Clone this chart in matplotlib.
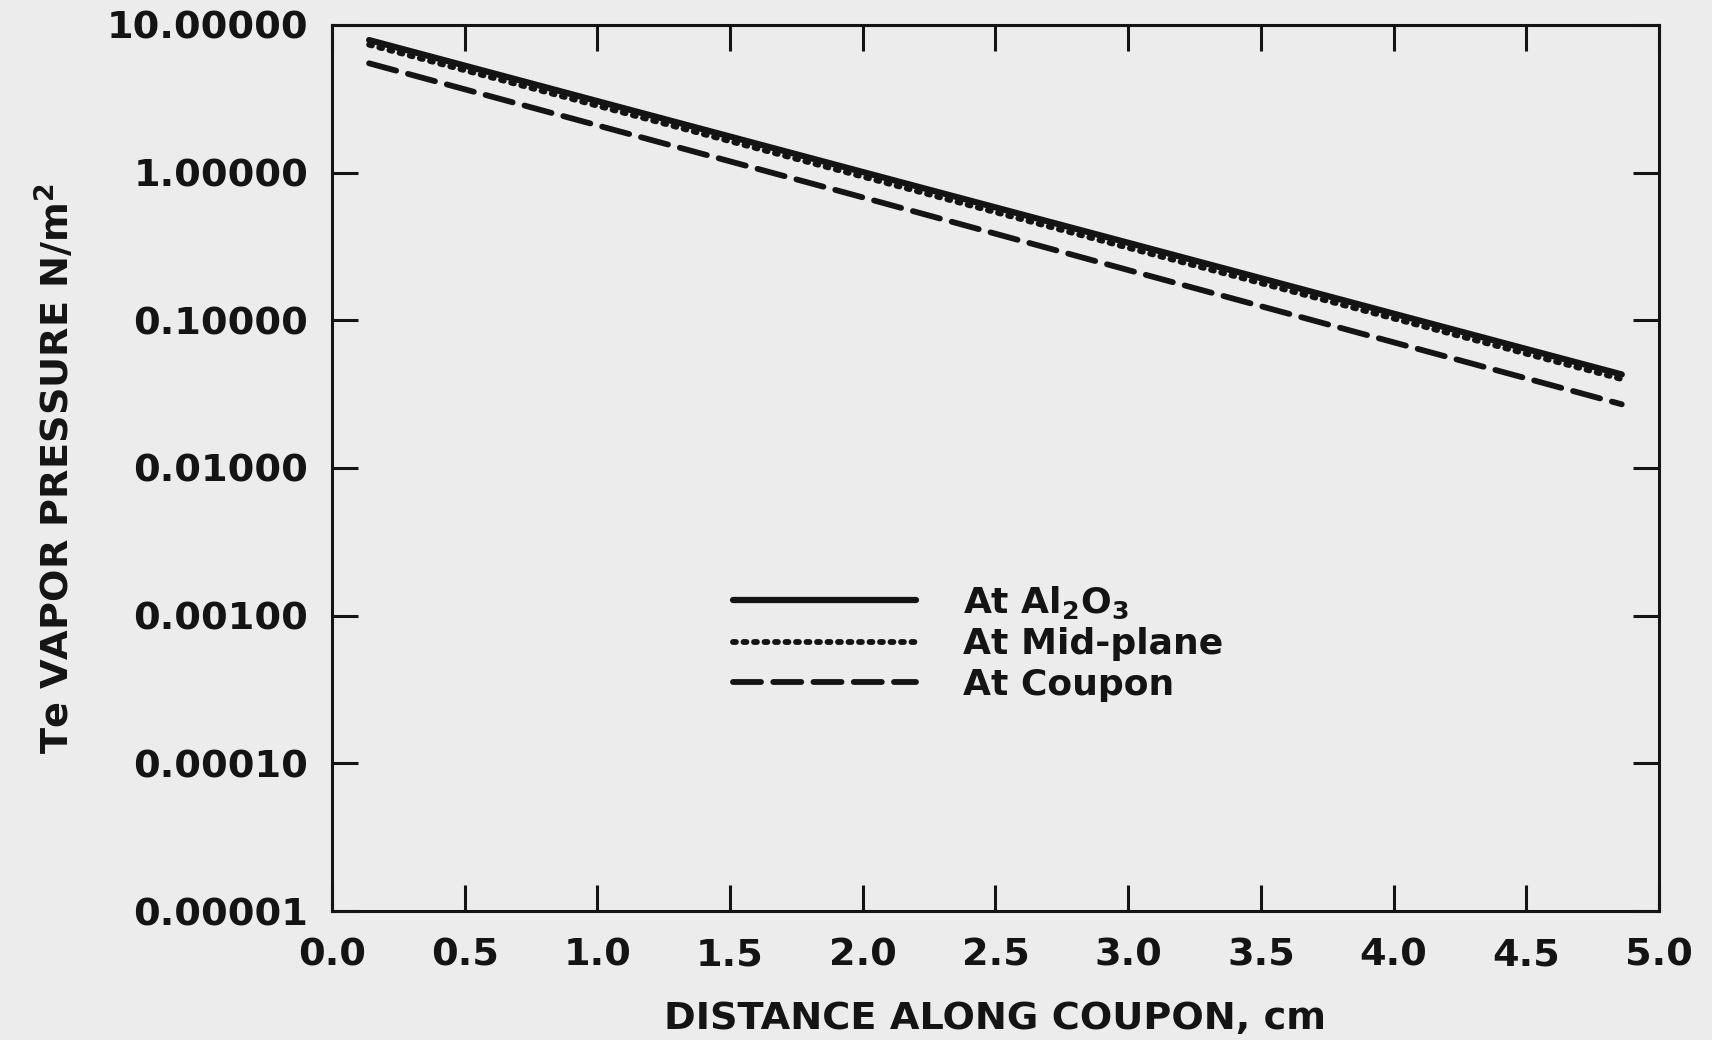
import matplotlib
matplotlib.use("Agg")
import matplotlib.pyplot as plt
from matplotlib.ticker import FixedLocator, FuncFormatter, NullLocator

# distance along coupon (cm) and Te vapor pressure (N/m^2) read at a few stations
distance = [0.14, 1.0, 2.0, 3.0, 4.0, 4.86]
p_al2o3 = [7.9, 3.05, 1.01, 0.335, 0.111, 0.043]
p_midplane = [7.35, 2.84, 0.94, 0.31, 0.103, 0.040]
p_coupon = [5.5, 2.09, 0.68, 0.219, 0.071, 0.027]

x_ticks = [0.0, 0.5, 1.0, 1.5, 2.0, 2.5, 3.0, 3.5, 4.0, 4.5, 5.0]
y_ticks = [1e-5, 1e-4, 1e-3, 1e-2, 1e-1, 1.0, 10.0]

paper = "#ececec"
ink = "#141414"

plt.rcParams["font.family"] = ["DejaVu Sans"]
plt.rcParams["font.weight"] = "bold"
plt.rcParams["mathtext.default"] = "bf"

fig = plt.figure(figsize=(17.12, 10.4), dpi=100, facecolor=paper)
ax = fig.add_axes([0.1939, 0.124, 0.7751, 0.852], facecolor=paper)

ax.plot(distance, p_al2o3, color=ink, lw=4.5, solid_capstyle="round",
        label=r"At Al$_{2}$O$_{3}$")
ax.plot(distance, p_midplane, color=ink, lw=4.2, dashes=(0.5, 1.3),
        dash_capstyle="round", label="At Mid-plane")
ax.plot(distance, p_coupon, color=ink, lw=4.2, dashes=(4.8, 2.1),
        dash_capstyle="round", label="At Coupon")

ax.set_yscale("log")
ax.set_xlim(0, 5)
ax.set_ylim(1e-5, 10)

ax.xaxis.set_major_locator(FixedLocator(x_ticks))
ax.xaxis.set_major_formatter(FuncFormatter(lambda v, _: f"{v:.1f}"))
ax.yaxis.set_major_locator(FixedLocator(y_ticks))
ax.yaxis.set_major_formatter(FuncFormatter(lambda v, _: f"{v:.5f}"))
ax.yaxis.set_minor_locator(NullLocator())

ax.tick_params(axis="both", which="major", direction="in", length=19, width=2.2,
               color=ink, labelcolor=ink, labelsize=27.5, top=True, right=True)
ax.tick_params(axis="x", pad=19)
ax.tick_params(axis="y", pad=17)
for lab in ax.get_xticklabels() + ax.get_yticklabels():
    lab.set_fontweight("bold")

for sp in ax.spines.values():
    sp.set_linewidth(2.2)
    sp.set_color(ink)

ax.set_xlabel("DISTANCE ALONG COUPON, cm", fontsize=27.5, fontweight="bold", color=ink)
ax.xaxis.set_label_coords(0.5, -0.102)
ax.set_ylabel(r"Te VAPOR PRESSURE N/m$^{2}$", fontsize=27.5, fontweight="bold", color=ink)
ax.yaxis.set_label_coords(-0.192, 0.5)

leg = ax.legend(loc="upper left", bbox_to_anchor=(0.278, 0.405), frameon=False,
                handlelength=5.05, handletextpad=1.3, labelspacing=0.18,
                prop={"size": 26, "weight": "bold"})
for t in leg.get_texts():
    t.set_color(ink)

fig.savefig("out.png", dpi=100, facecolor=paper)
